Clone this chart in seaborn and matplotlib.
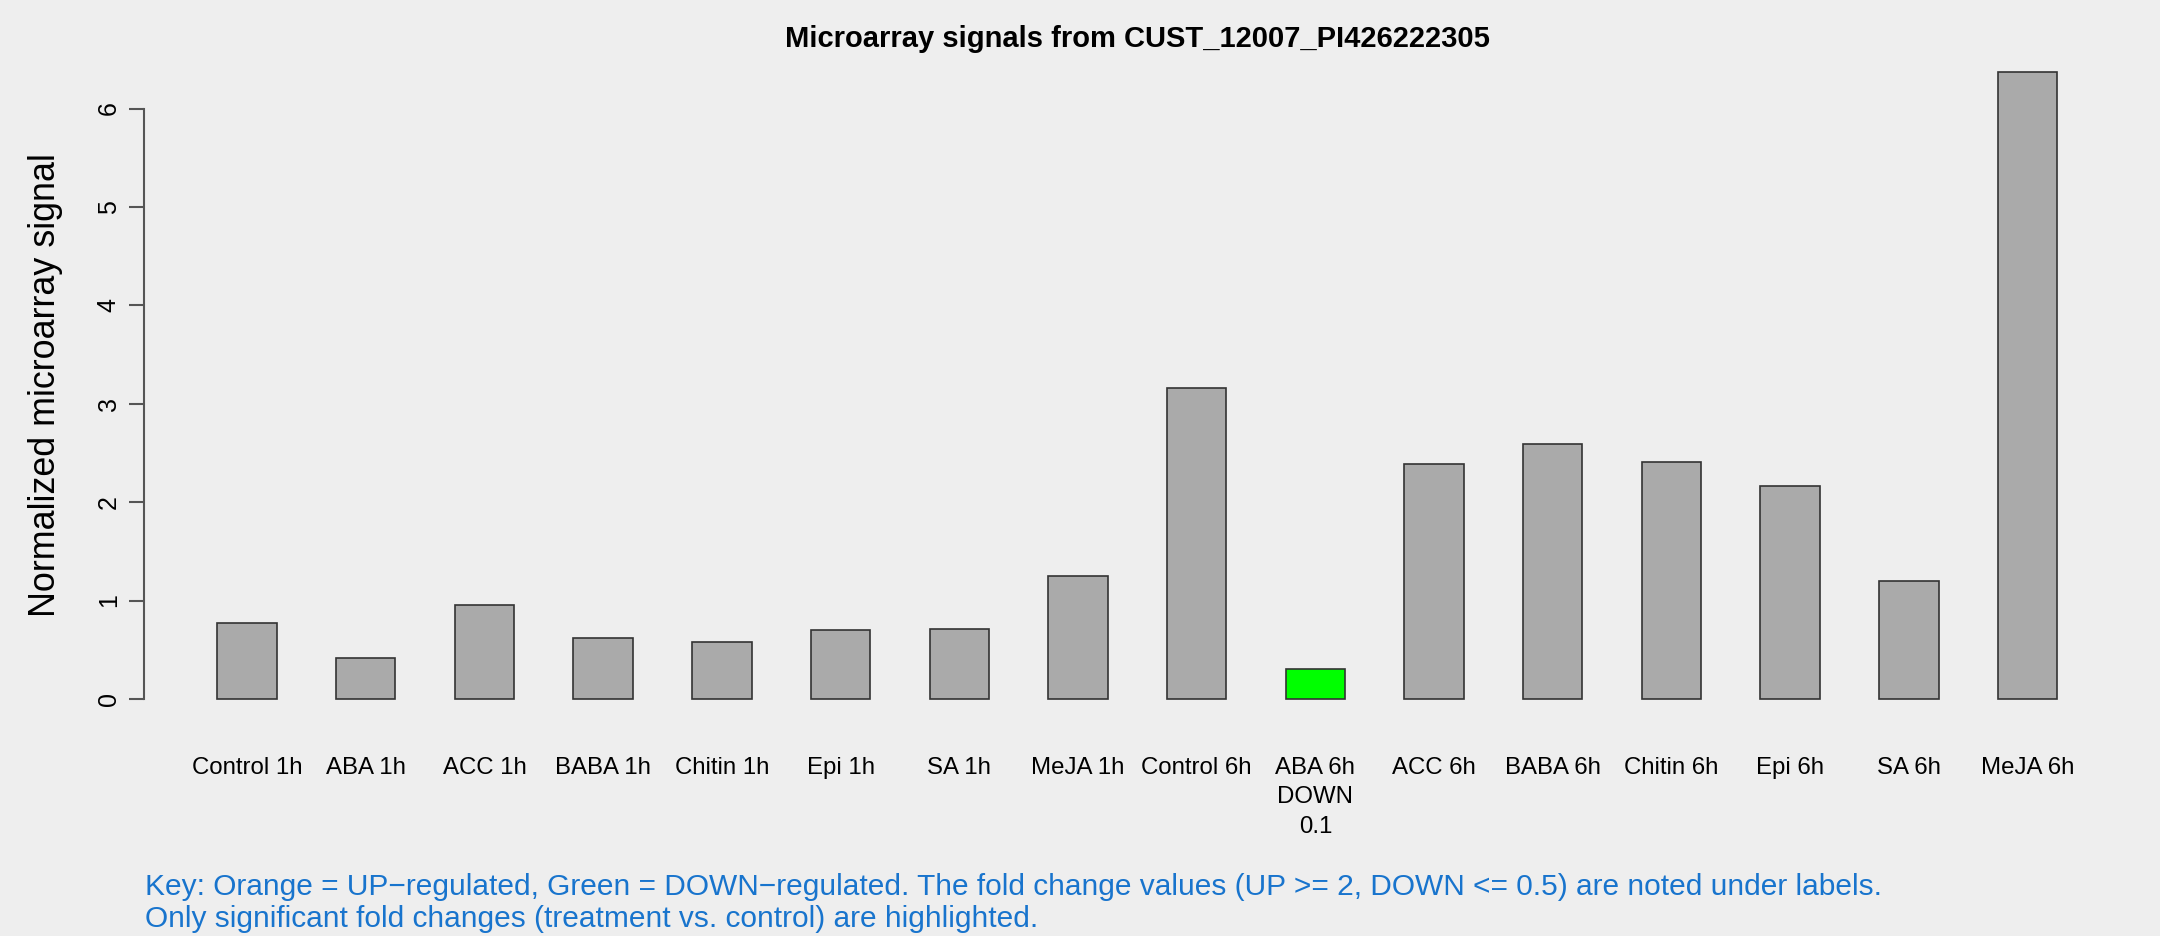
import pandas as pd
import matplotlib
matplotlib.use("Agg")
import matplotlib.pyplot as plt
import seaborn as sns

# values
categories = ["Control 1h", "ABA 1h", "ACC 1h", "BABA 1h", "Chitin 1h", "Epi 1h",
              "SA 1h", "MeJA 1h", "Control 6h", "ABA 6h", "ACC 6h", "BABA 6h",
              "Chitin 6h", "Epi 6h", "SA 6h", "MeJA 6h"]
signal = [0.77, 0.42, 0.95, 0.62, 0.58, 0.70, 0.71, 1.25,
          3.16, 0.30, 2.39, 2.59, 2.41, 2.16, 1.20, 6.37]
regulation = ["none"] * 9 + ["DOWN"] + ["none"] * 6
fold_notes = [""] * 9 + ["DOWN\n0.1"] + [""] * 6
tick_labels = [c if n == "" else c + "\n" + n for c, n in zip(categories, fold_notes)]

df = pd.DataFrame({"sample": categories, "signal": signal, "reg": regulation})
colors = {"none": "#AAAAAA", "DOWN": "#00FF00", "UP": "#FFA500"}

bg = "#EEEEEE"
sns.set_theme(style="white")
plt.rcParams["font.family"] = ["Liberation Sans", "DejaVu Sans"]
plt.rcParams["figure.facecolor"] = bg
plt.rcParams["axes.facecolor"] = bg
plt.rcParams["text.color"] = "black"
plt.rcParams["axes.labelcolor"] = "black"
plt.rcParams["xtick.color"] = "black"
plt.rcParams["ytick.color"] = "black"

W, H = 2160, 936
fig = plt.figure(figsize=(W / 100, H / 100), dpi=100)
ax = fig.add_axes([143.8 / W, (H - 724) / H, (2130.8 - 143.8) / W, (724 - 47) / H])

sns.barplot(data=df, x="sample", y="signal", hue="reg", palette=colors,
            width=0.5, edgecolor="#333333", linewidth=1.2, legend=False,
            dodge=False, saturation=1, ax=ax)

ax.set_xlim(-0.87, 15.87)
ax.set_ylim(-0.255, 6.625)
for s in ["top", "right", "bottom"]:
    ax.spines[s].set_visible(False)
ax.spines["left"].set_bounds(0, 6)
ax.spines["left"].set_color("#555555")
ax.spines["left"].set_linewidth(1.5)

ax.set_yticks(range(0, 7))
ax.tick_params(axis="y", length=14.7 * 0.72, width=1.5, color="#555555",
               labelsize=18, labelrotation=90, pad=6, left=True)
for lab in ax.get_yticklabels():
    lab.set_verticalalignment("center")
ax.set_xticks(range(len(categories)))
ax.set_xticklabels(tick_labels, fontsize=17.3, linespacing=1.42)
ax.tick_params(axis="x", length=0, pad=24)

ax.set_xlabel("")
ax.set_ylabel("Normalized microarray signal", fontsize=25.8, labelpad=24)

fig.text((143.8 + 2130.8) / 2 / W, 1 - 47 / H,
         "Microarray signals from CUST_12007_PI426222305",
         ha="center", va="baseline", fontsize=21, fontweight="bold")

key_color = "#1874CD"
fig.text(144.6 / W, 1 - 895 / H,
         "Key: Orange = UP\u2212regulated, Green = DOWN\u2212regulated. The fold change values "
         "(UP >= 2, DOWN <= 0.5) are noted under labels.",
         ha="left", va="baseline", fontsize=21.5, color=key_color)
fig.text(144.6 / W, 1 - 927 / H,
         "Only significant fold changes (treatment vs. control) are highlighted.",
         ha="left", va="baseline", fontsize=21.5, color=key_color)

plt.savefig("out.png", dpi=100, facecolor=bg)
